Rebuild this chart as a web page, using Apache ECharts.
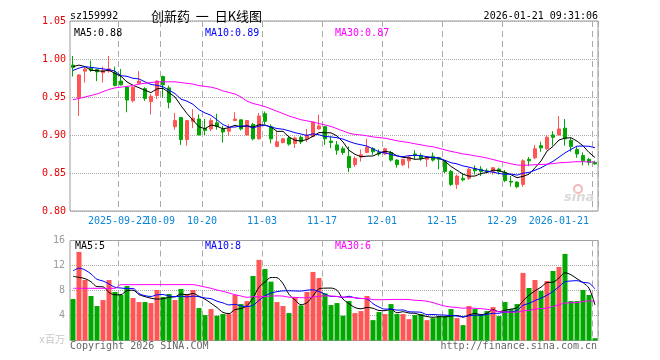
<!DOCTYPE html>
<html><head><meta charset="utf-8">
<script src="https://cdn.jsdelivr.net/npm/echarts@6/dist/echarts.min.js"></script>
<style>html,body{margin:0;padding:0;background:#fff}#c{width:660px;height:360px}</style>
</head><body><div id="c"></div>
<script>
const dates = [
'2025-09-10','2025-09-11','2025-09-12','2025-09-15','2025-09-16','2025-09-17','2025-09-18','2025-09-19','2025-09-22','2025-09-23',
'2025-09-24','2025-09-25','2025-09-26','2025-09-29','2025-09-30','2025-10-09','2025-10-10','2025-10-13','2025-10-14','2025-10-15',
'2025-10-16','2025-10-17','2025-10-20','2025-10-21','2025-10-22','2025-10-23','2025-10-24','2025-10-27','2025-10-28','2025-10-29',
'2025-10-30','2025-10-31','2025-11-03','2025-11-04','2025-11-05','2025-11-06','2025-11-07','2025-11-10','2025-11-11','2025-11-12',
'2025-11-13','2025-11-14','2025-11-17','2025-11-18','2025-11-19','2025-11-20','2025-11-21','2025-11-24','2025-11-25','2025-11-26',
'2025-11-27','2025-11-28','2025-12-01','2025-12-02','2025-12-03','2025-12-04','2025-12-05','2025-12-08','2025-12-09','2025-12-10',
'2025-12-11','2025-12-12','2025-12-15','2025-12-16','2025-12-17','2025-12-18','2025-12-19','2025-12-22','2025-12-23','2025-12-24',
'2025-12-25','2025-12-26','2025-12-29','2025-12-30','2025-12-31','2026-01-05','2026-01-06','2026-01-07','2026-01-08','2026-01-09',
'2026-01-12','2026-01-13','2026-01-14','2026-01-15','2026-01-16','2026-01-19','2026-01-20','2026-01-21'];

const opens = [
0.992,0.949,0.984,0.988,0.986,0.982,0.984,0.982,0.971,0.963,
0.945,0.968,0.961,0.944,0.952,0.977,0.962,0.911,0.923,0.894,
0.918,0.921,0.909,0.908,0.916,0.908,0.905,0.919,0.920,0.900,
0.914,0.895,0.928,0.911,0.885,0.890,0.896,0.889,0.897,0.895,
0.898,0.908,0.911,0.892,0.887,0.882,0.872,0.861,0.871,0.877,
0.882,0.877,0.875,0.877,0.867,0.861,0.866,0.875,0.873,0.868,
0.872,0.870,0.865,0.852,0.835,0.843,0.843,0.856,0.855,0.853,
0.852,0.855,0.851,0.839,0.838,0.835,0.868,0.870,0.886,0.882,
0.900,0.900,0.909,0.893,0.881,0.873,0.868,0.864];
const closes = [
0.989,0.979,0.987,0.985,0.983,0.985,0.987,0.965,0.966,0.946,
0.963,0.971,0.948,0.951,0.971,0.966,0.943,0.919,0.894,0.919,
0.922,0.900,0.906,0.919,0.911,0.904,0.909,0.921,0.908,0.919,
0.895,0.925,0.918,0.895,0.891,0.895,0.888,0.896,0.891,0.900,
0.917,0.912,0.895,0.890,0.880,0.877,0.857,0.869,0.874,0.884,
0.878,0.875,0.882,0.867,0.861,0.868,0.871,0.873,0.869,0.871,
0.867,0.868,0.852,0.835,0.846,0.841,0.855,0.853,0.852,0.852,
0.857,0.852,0.840,0.838,0.832,0.866,0.866,0.882,0.883,0.897,
0.897,0.908,0.895,0.885,0.875,0.866,0.864,0.862];
const lows = [
0.977,0.925,0.969,0.983,0.971,0.969,0.982,0.964,0.965,0.930,
0.943,0.968,0.945,0.927,0.947,0.949,0.935,0.907,0.887,0.886,
0.909,0.900,0.900,0.905,0.907,0.890,0.899,0.919,0.906,0.899,
0.893,0.894,0.914,0.889,0.884,0.889,0.886,0.883,0.888,0.891,
0.897,0.907,0.887,0.883,0.874,0.874,0.851,0.858,0.865,0.876,
0.874,0.872,0.874,0.865,0.857,0.859,0.856,0.868,0.866,0.858,
0.865,0.855,0.850,0.833,0.829,0.839,0.841,0.848,0.846,0.850,
0.848,0.848,0.838,0.832,0.830,0.832,0.859,0.868,0.878,0.880,
0.886,0.900,0.886,0.878,0.870,0.860,0.860,0.861];
const highs = [
1.004,0.980,0.990,0.998,0.987,0.990,1.004,0.990,0.987,0.964,
0.964,0.984,0.963,0.954,0.972,0.978,0.965,0.929,0.923,0.919,
0.934,0.927,0.921,0.922,0.928,0.912,0.914,0.930,0.920,0.919,
0.916,0.929,0.931,0.914,0.905,0.896,0.898,0.898,0.899,0.908,
0.917,0.927,0.912,0.898,0.892,0.885,0.885,0.872,0.881,0.895,
0.884,0.881,0.883,0.879,0.868,0.868,0.872,0.880,0.876,0.871,
0.877,0.870,0.867,0.854,0.848,0.850,0.857,0.860,0.859,0.856,
0.857,0.857,0.854,0.846,0.839,0.868,0.871,0.887,0.891,0.900,
0.905,0.925,0.921,0.896,0.885,0.877,0.870,0.866];

const volumes = [
6.63,14.18,9.68,7.12,5.51,6.47,9.68,7.76,7.28,8.72,
6.80,6.15,6.15,5.99,8.08,6.96,7.44,6.47,8.24,7.44,
8.08,5.19,4.07,5.03,3.96,4.23,4.23,7.28,5.83,6.31,
10.33,12.90,11.45,9.42,6.15,5.51,4.39,6.96,5.62,7.76,
10.97,10.00,7.54,5.67,5.99,3.96,6.31,4.39,4.71,7.12,
3.26,4.55,4.23,5.83,4.23,4.23,3.42,4.07,4.23,3.26,
3.58,3.90,3.90,5.03,3.58,2.46,5.51,5.03,4.07,4.71,
5.35,3.90,6.15,5.03,5.83,10.81,8.40,9.68,7.92,9.52,
11.13,11.77,13.86,6.31,6.31,8.08,7.28,0.37];

// moving-average values before enough bars exist
const priceMa5Head = [0.990,0.992,0.990,0.985];
const priceMa10Head = [0.985,0.988,0.990,0.989,0.988,0.987,0.986,0.984,0.978];
const priceMa30Head = [0.9465,0.948,0.950,0.952,0.954,0.957,0.960,0.962,0.963,0.964,0.965,0.967,0.968,0.969,0.970,0.970,0.970,0.970,0.969,0.968,0.967,0.965,0.964,0.963,0.961,0.958,0.956,0.954,0.950];
const volMa5Head = [10.27,10.1,9.9,9.4];
const volMa10Head = [11.13,11.56,11.29,10.65,9.79,9.52,9.04,8.51,8.40];
const volMa30Head = [8.35,8.35,8.35,8.35,8.35,8.35,8.35,8.35,8.94,8.94,8.94,8.94,8.94,8.94,8.94,8.94,8.94,8.94,8.94,8.94,8.94,8.77,8.56,8.35,8.08,7.87,7.60,7.33,7.12];

const priceMaLabels = ['MA5:0.88','MA10:0.89','MA30:0.87'];
const volMaLabels = ['MA5:5','MA10:8','MA30:6'];
const labelIdx = [8,15,22,32,42,52,62,72,87];
const priceTicks = [0.80,1.05,0.05];
const volTicks = [0,16,4];

function ma(vals, n, head){
  return vals.map((v,i)=>{
    if(i < n-1) return head[i];
    let s=0; for(let k=i-n+1;k<=i;k++) s+=vals[k];
    return +(s/n).toFixed(4);
  });
}
const UP='#ff5555', DOWN='#00a800';
const kData = opens.map((o,i)=>[o,closes[i],lows[i],highs[i]]);
const volData = volumes.map((v,i)=>({value:v,itemStyle:{color: closes[i]>=opens[i]?UP:DOWN}}));
const MONO='"DejaVu Sans Mono", "Noto Sans CJK SC", monospace';
const showIdx = (i)=>labelIdx.indexOf(i)>=0;
function dateLabel(v,i){
  const k = labelIdx.indexOf(i);
  if(k<=0) return v;
  return v.slice(0,4)!==dates[labelIdx[k-1]].slice(0,4) ? v : v.slice(5);
}

const chart = echarts.init(document.getElementById('c'), null, {renderer:'canvas'});
const gridStyle = {show:true, borderColor:'#999', borderWidth:1, backgroundColor:'#fff'};
const vsplit = {show:true, interval:(i)=>showIdx(i), lineStyle:{color:'#aaa', type:[6,4], width:1}};
const labelBase = {hideOverlap:false, color:'#0b86d6', fontFamily:MONO, fontSize:10, margin:5, padding:[0,6,0,0], formatter:dateLabel};
function txt(text,x,y,color,opts){
  return {type:'text', x:x, y:y, z:100, style:Object.assign({text:text, fill:color, font:'10px '+MONO, verticalAlign:'middle'}, opts||{})};
}
chart.setOption({
  animation:false,
  grid:[
    Object.assign({left:70, top:21, width:528, height:190}, gridStyle),
    Object.assign({left:70, top:240.5, width:528, height:100}, gridStyle)
  ],
  xAxis:[
    {type:'category', gridIndex:0, data:dates, boundaryGap:true, position:'bottom', offset:0,
     axisLine:{show:false}, axisTick:{show:false}, splitLine:vsplit,
     axisLabel:Object.assign({}, labelBase, {interval:(i)=>showIdx(i) && i!==labelIdx[0], alignMaxLabel:'right'})},
    {type:'category', gridIndex:1, data:dates, boundaryGap:true,
     axisLine:{show:false}, axisTick:{show:false}, axisLabel:{show:false}, splitLine:vsplit},
    {type:'category', gridIndex:0, data:dates, boundaryGap:true, position:'bottom', offset:0,
     axisLine:{show:false}, axisTick:{show:false}, splitLine:{show:false},
     axisLabel:Object.assign({}, labelBase, {interval:(i)=>i===labelIdx[0]})}
  ],
  yAxis:[
    {type:'value', gridIndex:0, min:priceTicks[0], max:priceTicks[1], interval:priceTicks[2],
     axisLine:{show:false}, axisTick:{show:false},
     splitLine:{show:true, lineStyle:{color:'#aaa', type:'dotted'}},
     axisLabel:{color:'#e60000', fontFamily:MONO, fontSize:10, margin:4, formatter:(v)=>v.toFixed(2)}},
    {type:'value', gridIndex:1, min:volTicks[0], max:volTicks[1], interval:volTicks[2],
     axisLine:{show:false}, axisTick:{show:false},
     splitLine:{show:true, lineStyle:{color:'#aaa', type:'dotted'}},
     axisLabel:{color:'#999', fontFamily:MONO, fontSize:10, margin:5,
       formatter:(v)=> v===0 ? '{u|x百万}' : String(v),
       rich:{u:{color:'#c8c8c8', fontFamily:MONO, fontSize:10}}}}
  ],
  series:[
    {type:'candlestick', xAxisIndex:0, yAxisIndex:0, data:kData, barWidth:4,
     itemStyle:{color:UP, color0:DOWN, borderColor:UP, borderColor0:DOWN, borderWidth:1}},
    {type:'line', xAxisIndex:0, yAxisIndex:0, data:ma(closes,5,priceMa5Head), showSymbol:false, lineStyle:{color:'#000',width:1}, z:5},
    {type:'line', xAxisIndex:0, yAxisIndex:0, data:ma(closes,10,priceMa10Head), showSymbol:false, lineStyle:{color:'#0000ff',width:1}, z:5},
    {type:'line', xAxisIndex:0, yAxisIndex:0, data:ma(closes,30,priceMa30Head), showSymbol:false, lineStyle:{color:'#ff00ff',width:1}, z:5},
    {type:'bar', xAxisIndex:1, yAxisIndex:1, data:volData, barWidth:5},
    {type:'line', xAxisIndex:1, yAxisIndex:1, data:ma(volumes,5,volMa5Head), showSymbol:false, smooth:0.3, lineStyle:{color:'#000',width:1}, z:5},
    {type:'line', xAxisIndex:1, yAxisIndex:1, data:ma(volumes,10,volMa10Head), showSymbol:false, smooth:0.3, lineStyle:{color:'#0000ff',width:1}, z:5},
    {type:'line', xAxisIndex:1, yAxisIndex:1, data:ma(volumes,30,volMa30Head), showSymbol:false, smooth:0.3, lineStyle:{color:'#ff00ff',width:1}, z:5}
  ],
  graphic:[
    txt('sz159992',70,16,'#000'),
    {type:'text', x:151, y:16, z:100, style:{text:'创新药  一  日K线图', fill:'#000', font:'13px "Noto Sans CJK SC"', verticalAlign:'middle'}},
    txt('2026-01-21 09:31:06',598,16,'#000',{align:'right'}),
    txt(priceMaLabels[0],74,33,'#000'),
    txt(priceMaLabels[1],205,33,'#0000ff'),
    txt(priceMaLabels[2],335,33,'#ff00ff'),
    txt(volMaLabels[0],75,246,'#000'),
    txt(volMaLabels[1],205,246,'#0000ff'),
    txt(volMaLabels[2],335,246,'#ff00ff'),
    txt('Copyright 2026 SINA.COM',70,346,'#666'),
    txt('http://finance.sina.com.cn',597,346,'#666',{align:'right'}),
    {type:'circle', z:50, shape:{cx:578, cy:189, r:4}, style:{fill:'none', stroke:'#f2b8b8', lineWidth:2}},
    {type:'text', x:564, y:198, z:50, style:{text:'sina', fill:'#d9d9d9', font:'italic bold 13px "DejaVu Sans"', verticalAlign:'middle'}}
  ]
});
</script></body></html>
